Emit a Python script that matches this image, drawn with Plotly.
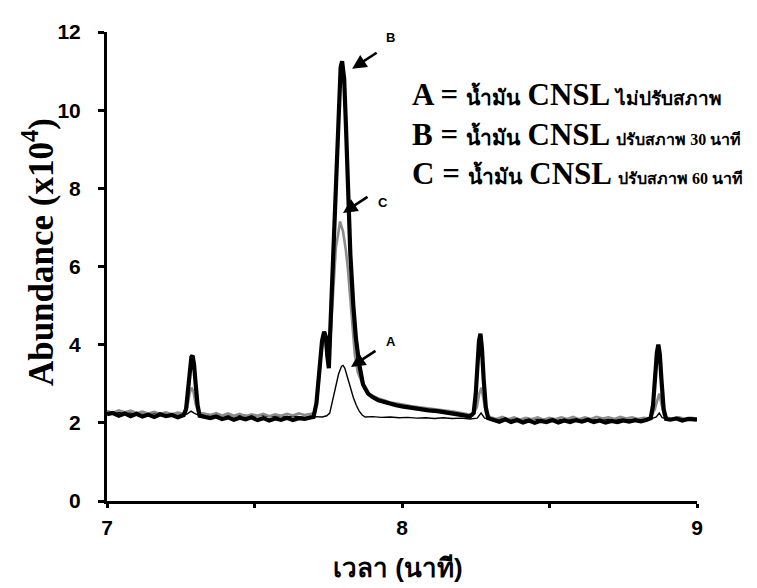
import plotly.graph_objects as go

# ---------------- data ----------------
tB = [7.00, 7.02, 7.04, 7.06, 7.08, 7.10, 7.12, 7.14, 7.16, 7.18, 7.20, 7.22, 7.24, 7.26,
      7.268, 7.275, 7.281, 7.286, 7.290, 7.295, 7.301, 7.307, 7.314,
      7.33, 7.35, 7.37, 7.39, 7.41, 7.43, 7.45, 7.47, 7.49, 7.51, 7.53, 7.55, 7.57, 7.59,
      7.61, 7.63, 7.65, 7.67, 7.69, 7.70,
      7.710, 7.720, 7.729, 7.736, 7.742, 7.747, 7.752, 7.756, 7.761, 7.766, 7.773, 7.780,
      7.787, 7.792, 7.797, 7.804, 7.810, 7.817, 7.825, 7.835, 7.844, 7.855, 7.868, 7.885,
      7.90, 7.92, 7.94, 7.96, 7.98, 8.00, 8.03, 8.06, 8.09, 8.12, 8.15, 8.18, 8.21, 8.23,
      8.243, 8.250, 8.256, 8.261, 8.266, 8.271, 8.277, 8.284, 8.292,
      8.31, 8.33, 8.35, 8.37, 8.39, 8.41, 8.43, 8.45, 8.47, 8.49, 8.51, 8.53, 8.55, 8.57,
      8.59, 8.61, 8.63, 8.65, 8.67, 8.69, 8.71, 8.73, 8.75, 8.77, 8.79, 8.81, 8.83, 8.843,
      8.851, 8.858, 8.864, 8.869, 8.874, 8.880, 8.887, 8.895, 8.91, 8.93, 8.95, 8.97, 9.00]
yB = [2.22, 2.25, 2.18, 2.24, 2.17, 2.23, 2.16, 2.21, 2.15, 2.22, 2.17, 2.20, 2.14, 2.20,
      2.35, 2.85, 3.40, 3.68, 3.72, 3.50, 2.95, 2.45, 2.18,
      2.15, 2.12, 2.16, 2.10, 2.14, 2.08, 2.13, 2.09, 2.14, 2.07, 2.12, 2.06, 2.11, 2.08,
      2.13, 2.07, 2.12, 2.10, 2.14, 2.15,
      2.50, 3.40, 4.10, 4.33, 4.20, 3.70, 3.40, 4.20, 5.20, 6.20, 7.50, 9.20,
      10.60, 11.10, 11.25, 10.80, 9.60, 7.60, 6.30, 5.00, 4.15, 3.50, 2.98, 2.75,
      2.66, 2.58, 2.53, 2.48, 2.45, 2.42, 2.38, 2.35, 2.32, 2.30, 2.27, 2.24, 2.19, 2.16,
      2.25, 2.75, 3.50, 4.10, 4.28, 3.90, 3.10, 2.40, 2.12,
      2.08, 2.03, 2.09, 2.02, 2.07, 2.01, 2.06, 2.00, 2.05, 2.02, 2.07, 2.01, 2.06, 2.02,
      2.07, 2.03, 2.08, 2.02, 2.06, 2.01, 2.05, 2.02, 2.06, 2.03, 2.07, 2.04, 2.08, 2.12,
      2.45, 3.20, 3.80, 4.00, 3.75, 3.05, 2.35, 2.10, 2.08, 2.11, 2.06, 2.10, 2.08]

tC = [7.00, 7.02, 7.04, 7.06, 7.08, 7.10, 7.12, 7.14, 7.16, 7.18, 7.20, 7.22, 7.24, 7.26,
      7.272, 7.280, 7.287, 7.293, 7.300, 7.308, 7.318,
      7.33, 7.35, 7.37, 7.39, 7.41, 7.43, 7.45, 7.47, 7.49, 7.51, 7.53, 7.55, 7.57, 7.59,
      7.61, 7.63, 7.65, 7.67, 7.69, 7.705,
      7.715, 7.725, 7.734, 7.740, 7.746, 7.752, 7.760, 7.768, 7.776, 7.783, 7.790, 7.800,
      7.810, 7.817, 7.825, 7.833, 7.840, 7.850, 7.860, 7.870, 7.885,
      7.90, 7.92, 7.94, 7.96, 7.98, 8.00, 8.03, 8.06, 8.09, 8.12, 8.15, 8.18, 8.21, 8.24,
      8.254, 8.262, 8.269, 8.276, 8.285,
      8.30, 8.32, 8.34, 8.36, 8.38, 8.40, 8.42, 8.44, 8.46, 8.48, 8.50, 8.52, 8.54, 8.56,
      8.58, 8.60, 8.62, 8.64, 8.66, 8.68, 8.70, 8.72, 8.74, 8.76, 8.78, 8.80, 8.82, 8.84,
      8.857, 8.865, 8.872, 8.879, 8.888, 8.90, 8.92, 8.94, 8.96, 8.98, 9.00]
yC = [2.30, 2.26, 2.32, 2.27, 2.31, 2.25, 2.29, 2.24, 2.28, 2.23, 2.27, 2.22, 2.26, 2.23,
      2.40, 2.75, 2.90, 2.80, 2.50, 2.30, 2.25,
      2.24, 2.20, 2.25, 2.19, 2.24, 2.18, 2.23, 2.17, 2.22, 2.18, 2.23, 2.17, 2.22, 2.18,
      2.23, 2.19, 2.24, 2.20, 2.23, 2.25,
      2.80, 3.70, 4.20, 4.15, 3.70, 3.50, 4.50, 5.60, 6.50, 6.80, 7.15, 6.90,
      6.40, 5.90, 5.20, 4.40, 3.75, 3.30, 3.10, 2.92, 2.75,
      2.70, 2.62, 2.58, 2.52, 2.50, 2.47, 2.43, 2.40, 2.37, 2.35, 2.32, 2.28, 2.24, 2.20,
      2.40, 2.75, 2.90, 2.60, 2.25,
      2.14, 2.10, 2.15, 2.09, 2.14, 2.08, 2.13, 2.09, 2.14, 2.08, 2.13, 2.09, 2.14, 2.10,
      2.15, 2.09, 2.14, 2.10, 2.15, 2.11, 2.14, 2.10, 2.15, 2.11, 2.14, 2.10, 2.13, 2.11,
      2.35, 2.60, 2.75, 2.50, 2.20, 2.13, 2.10, 2.14, 2.10, 2.13, 2.11]

tA = [7.00, 7.03, 7.06, 7.09, 7.12, 7.15, 7.18, 7.21, 7.24, 7.27, 7.285, 7.295, 7.31,
      7.34, 7.37, 7.40, 7.43, 7.46, 7.49, 7.52, 7.55, 7.58, 7.61, 7.64, 7.67, 7.70, 7.73,
      7.745, 7.755, 7.765, 7.775, 7.785, 7.795, 7.800, 7.806, 7.815, 7.825, 7.835, 7.845,
      7.855, 7.865, 7.875, 7.90, 7.93, 7.96, 7.99, 8.02, 8.05, 8.08, 8.11, 8.14, 8.17,
      8.20, 8.23, 8.255, 8.268, 8.28, 8.30, 8.33, 8.36, 8.39, 8.42, 8.45, 8.48, 8.51, 8.54,
      8.57, 8.60, 8.63, 8.66, 8.69, 8.72, 8.75, 8.78, 8.81, 8.84, 8.862, 8.872, 8.882,
      8.90, 8.93, 8.96, 9.00]
yA = [2.28, 2.25, 2.27, 2.24, 2.26, 2.23, 2.25, 2.22, 2.24, 2.22, 2.30, 2.25, 2.20,
      2.22, 2.19, 2.21, 2.18, 2.20, 2.17, 2.19, 2.16, 2.18, 2.15, 2.17, 2.14, 2.16, 2.15,
      2.18, 2.25, 2.60, 2.95, 3.25, 3.45, 3.47, 3.40, 3.15, 2.90, 2.65, 2.45,
      2.30, 2.20, 2.15, 2.16, 2.14, 2.15, 2.13, 2.14, 2.12, 2.13, 2.11, 2.13, 2.11,
      2.12, 2.10, 2.12, 2.25, 2.12, 2.10, 2.11, 2.09, 2.10, 2.08, 2.10, 2.09, 2.10, 2.08,
      2.10, 2.09, 2.10, 2.08, 2.10, 2.09, 2.10, 2.08, 2.10, 2.09, 2.15, 2.25, 2.13,
      2.10, 2.09, 2.10, 2.10]

x_tickvals = [7, 7.5, 8, 8.5, 9]
x_ticktext = ["7", "", "8", "", "9"]
y_tickvals = [0, 2, 4, 6, 8, 10, 12]

legend_keys = ["A", "B", "C"]
legend_oil = "น้ำมัน"
legend_cnsl = "CNSL"
legend_desc = ["ไม่ปรับสภาพ", "ปรับสภาพ 30 นาที", "ปรับสภาพ 60 นาที"]
arrow_labels = [("B", 7.831, 11.06, 7.96, 11.85),
                ("C", 7.800, 7.37, 7.935, 7.65),
                ("A", 7.827, 3.43, 7.962, 4.09)]

# ---------------- figure ----------------
SERIF = "Liberation Serif, Times New Roman, serif"
SANS = "Liberation Sans, Arial, sans-serif"

fig = go.Figure()
fig.add_trace(go.Scatter(x=tA, y=yA, mode="lines", line=dict(color="black", width=1.4),
                         showlegend=False))
fig.add_trace(go.Scatter(x=tC, y=yC, mode="lines", line=dict(color="#8c8c8c", width=2.6),
                         showlegend=False))
fig.add_trace(go.Scatter(x=tB, y=yB, mode="lines", line=dict(color="black", width=4.2),
                         showlegend=False))

for lab, hx, hy, tx, ty in arrow_labels:
    fig.add_annotation(x=hx, y=hy, ax=26, ay=-17, text="", showarrow=True,
                       arrowhead=2, arrowsize=1.1, arrowwidth=2.6, arrowcolor="black")
    fig.add_annotation(x=tx, y=ty, text="<b>%s</b>" % lab, showarrow=False,
                       font=dict(family=SANS, size=13, color="black"))

legend_y = [0.867, 0.782, 0.698]
for i, (key, desc, yy) in enumerate(zip(legend_keys, legend_desc, legend_y)):
    txt = ("<b>%s = <span style='font-size:21px'>%s</span> %s "
           "<span style='font-size:%dpx'>%s</span></b>") % (
        key, legend_oil, legend_cnsl, 19 if i == 0 else 16, desc)
    fig.add_annotation(xref="paper", yref="paper", x=0.513, y=yy, xanchor="left",
                       yanchor="middle", showarrow=False, text=txt,
                       font=dict(family=SERIF, size=31, color="black"))

fig.add_annotation(xref="paper", yref="paper", x=-0.115, y=0.531, textangle=-90,
                   xanchor="center", yanchor="middle",
                   showarrow=False, text="<b>Abundance (x10<sup>4</sup>)</b>",
                   font=dict(family=SERIF, size=35, color="black"))
fig.add_annotation(xref="paper", yref="paper", x=0.493, y=-0.143, xanchor="center",
                   yanchor="middle", showarrow=False,
                   text="<b>เวลา (นาที)</b>",
                   font=dict(family=SANS, size=26, color="black"))

fig.update_layout(
    width=757, height=588,
    margin=dict(l=99, r=68, t=20, b=95),
    paper_bgcolor="white", plot_bgcolor="white",
    xaxis=dict(range=[7, 9], tickvals=x_tickvals, ticktext=x_ticktext,
               showgrid=False, zeroline=False, showline=True, linecolor="black",
               linewidth=3, ticks="outside", ticklen=4, tickwidth=3, tickcolor="black",
               ticklabelstandoff=2,
               tickfont=dict(family=SANS, size=21, color="black", weight="bold")),
    yaxis=dict(range=[0, 12], tickvals=y_tickvals,
               showgrid=False, zeroline=False, showline=True, linecolor="black",
               linewidth=3, ticks="outside", ticklen=6, tickwidth=3, tickcolor="black",
               ticklabelstandoff=13,
               tickfont=dict(family=SANS, size=21, color="black", weight="bold")),
)

fig.write_html("out.html")
